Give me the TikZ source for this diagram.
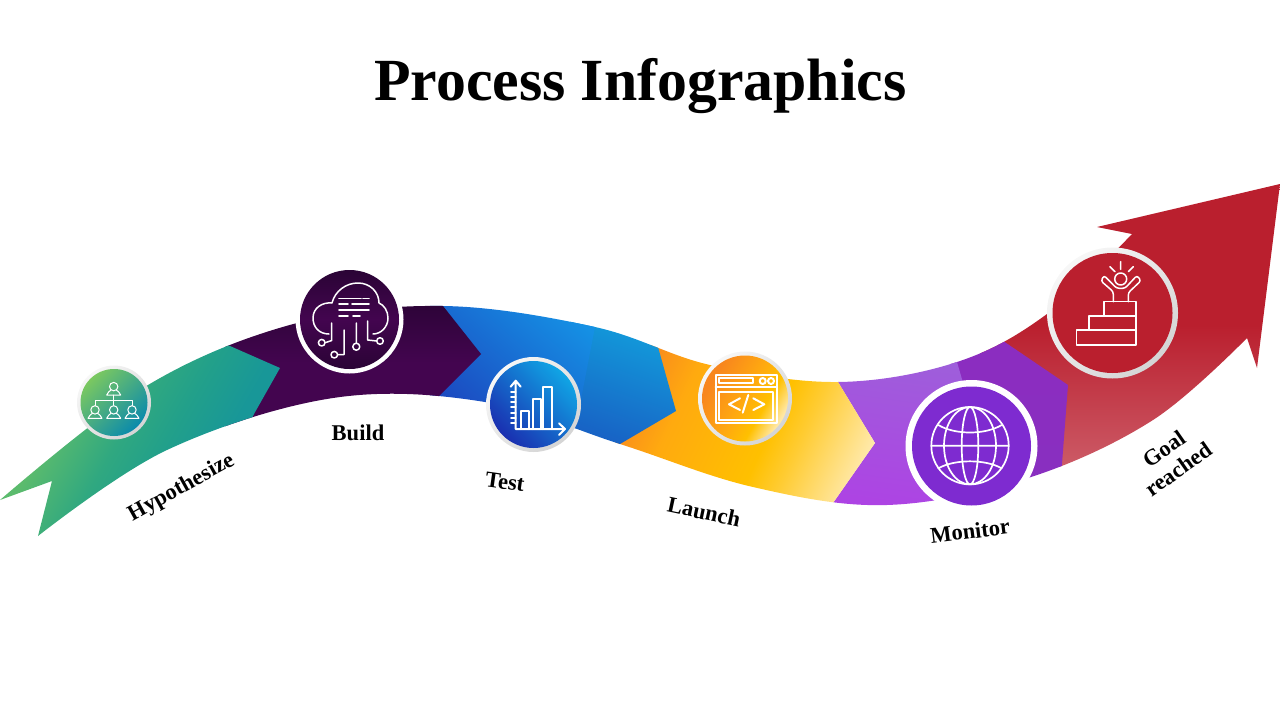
\documentclass[tikz,border=0pt]{standalone}
\usepackage{fontspec}
\setmainfont{Liberation Serif}
\definecolor{grnA}{HTML}{5BBB6D}
\definecolor{grnB}{HTML}{30A880}
\definecolor{grnC}{HTML}{22A08A}
\definecolor{grnD}{HTML}{189798}
\definecolor{discgA}{HTML}{7BC860}
\definecolor{discgB}{HTML}{0A8AAC}
\definecolor{plA}{HTML}{2A0435}
\definecolor{plB}{HTML}{43054F}
\definecolor{blA}{HTML}{1C45BE}
\definecolor{blB}{HTML}{1590E4}
\definecolor{blC}{HTML}{1860C4}
\definecolor{blD}{HTML}{129FDC}
\definecolor{discbA}{HTML}{1A2FB0}
\definecolor{discbB}{HTML}{10A5E5}
\definecolor{yA}{HTML}{F8861E}
\definecolor{yB}{HTML}{FFAA0F}
\definecolor{yC}{HTML}{FFC000}
\definecolor{yD}{HTML}{FFCC33}
\definecolor{yE}{HTML}{FFE8A6}
\definecolor{lpA}{HTML}{9D60DA}
\definecolor{lpB}{HTML}{AE42E4}
\definecolor{dpA}{HTML}{8C2CC0}
\definecolor{dpB}{HTML}{8830C0}
\definecolor{discp}{HTML}{7E2BD0}
\definecolor{rdA}{HTML}{BA1F2E}
\definecolor{rdB}{HTML}{CC5A66}
\definecolor{ringA}{HTML}{F7F7F7}
\definecolor{ringB}{HTML}{D4D4D4}
\pgfdeclarehorizontalshading{bandyellow}{100bp}{color(0bp)=(yA); color(23bp)=(yA); color(35bp)=(yB); color(55bp)=(yC); color(62bp)=(yD); color(76bp)=(yE); color(100bp)=(yE)}
\pgfdeclarehorizontalshading{discyellow}{100bp}{color(0bp)=(yA); color(28bp)=(yA); color(50bp)=(yB); color(62bp)=(yC); color(74bp)=(yE); color(100bp)=(yE)}
\pgfdeclarehorizontalshading{bandgreen}{100bp}{color(0bp)=(grnA); color(35bp)=(grnA); color(47bp)=(grnB); color(55bp)=(grnC); color(65bp)=(grnD); color(100bp)=(grnD)}
\tikzset{
  ringdisc/.style={circle,inner sep=0pt,minimum size=#1,top color=ringA,bottom color=ringB,shading angle=45},
  whitedisc/.style={circle,inner sep=0pt,minimum size=#1,fill=white},
  labeltext/.style={font=\fontsize{22.5}{25}\selectfont\bfseries,text=black,inner sep=0pt,align=center},
  iconline/.style={draw=white,line width=#1,line join=round,line cap=round},
  personicon/.pic={
    \draw[iconline=1pt] (0,-8.4) circle[radius=4.2];
    \draw[iconline=1pt] (-7,0) -- (7,0) .. controls (6.5,-3.2) and (3.6,-3.4) .. (2.6,-5) (-7,0) .. controls (-6.5,-3.2) and (-3.6,-3.4) .. (-2.6,-5);
  }
}
\newcommand{\bandpath}{(0,500) -- plot[smooth,tension=0.6] coordinates {(0,500) (148,385) (297,323) (443,306) (595,327) (710,365) (838,382) (957,362) (1047,314) (1132,234)} -- (1097,227) -- (1280,184) -- (1257,368) -- (1247,338) -- plot[smooth,tension=0.6] coordinates {(1247,338) (1153,420) (1028,478) (887,505) (753,487) (620,444) (485,402) (333,398) (167,450) (38,536)} -- (52,481) -- cycle}
\begin{document}
\begin{tikzpicture}[x=1pt,y=-1pt]
\useasboundingbox (0,0) rectangle (1280,720);
\node[anchor=base,inner sep=0pt,font=\fontsize{59.8}{62}\selectfont\bfseries] (title) at (640.5,100) {Process Infographics};
\begin{scope}
  \clip \bandpath;
  \shade[top color=rdA,bottom color=rdB,middle color=rdA] (980,184) rectangle (1290,466);
  \shade[top color=dpA,bottom color=dpB] (950,320) -- (990,332) -- (1068,385) -- (1060,490) -- (950,520) -- cycle;
  \shade[top color=lpA,bottom color=lpB,shading angle=-8] (820,345) -- (950,345) -- (957,362) -- (968,400) -- (968,515) -- (820,515) -- (826,513) -- (833,503) -- (875,443) -- (838,382) -- (832,372) -- cycle;
  \shade[shading=bandyellow,shading angle=-25] (615,345) -- (825,345) -- (832,372) -- (838,382) -- (875,443) -- (833,503) -- (826,513) -- (615,513) -- cycle;
  \shade[top color=blD,bottom color=blC,shading angle=-20] (570,315) -- (655,335) -- (658,347) -- (676,411) -- (620,444) -- (608,451) -- (570,440) -- cycle;
  \shade[top color=blB,bottom color=blA,shading angle=-40] (430,295) -- (597,317) -- (595,327) -- (577,420) -- (573,440) -- (430,410) -- cycle;
  \shade[top color=plA,bottom color=plB,middle color=plB] (225,296) -- (436,296) -- (443,306) -- (481,354) -- (440,395) -- (430,405) -- (225,430) -- cycle;
  \shade[shading=bandgreen,shading angle=-30] (-5,330) -- (215,339) -- (230,346) -- (280,368) -- (254,414) -- (248,426) -- (248,545) -- (-5,545) -- cycle;
\end{scope}

% discs
\node[ringdisc=74pt] (ring1) at (114,402.5) {};
\node[circle,inner sep=0pt,minimum size=67pt,top color=discgA,bottom color=discgB,shading angle=45] (disc1) at (114,402.5) {};
\node[whitedisc=108pt] (ring2) at (349.5,319.5) {};
\node[circle,inner sep=0pt,minimum size=99pt,top color=plA,bottom color=plA,middle color=plB] (disc2) at (349.5,319.5) {};
\node[ringdisc=95pt] (ring3) at (533.5,404.5) {};
\node[circle,inner sep=0pt,minimum size=87pt,top color=discbB,bottom color=discbA,shading angle=-45] (disc3) at (533.5,404.5) {};
\node[ringdisc=94pt] (ring4) at (745,398.5) {};
\node[circle,inner sep=0pt,minimum size=86pt,shading=discyellow,shading angle=-30] (disc4) at (745,398.5) {};
\node[whitedisc=132pt] (ring5) at (971.5,446) {};
\node[circle,inner sep=0pt,minimum size=119pt,fill=discp] (disc5) at (971.5,446) {};
\node[ringdisc=131pt] (ring6) at (1112.5,313) {};
\node[circle,inner sep=0pt,minimum size=120pt,fill=rdA] (disc6) at (1112.5,313) {};

% icon 1: hierarchy
\pic at (113.7,395) {personicon};
\pic at (95,418.3) {personicon};
\pic at (113.7,418.3) {personicon};
\pic at (132,418.3) {personicon};
\draw[iconline=1pt] (113.7,395) -- (113.7,405) (95,405.5) -- (95,400.3) -- (132,400.3) -- (132,405.5);

% icon 2: cloud
\draw[iconline=1.5pt] (329,334) .. controls (319,334) and (313,327) .. (313,318) .. controls (313,308) and (322,302) .. (332,303) .. controls (335,291) and (346,283) .. (358,283) .. controls (370,283) and (379,292) .. (379,303) .. controls (384,305) and (388,311) .. (388,318) .. controls (388,327) and (381,334) .. (373,334);
\draw[iconline=1.5pt] (331.7,323) -- (331.7,340.5) -- (325,342.7) (344,330) -- (344,354.7) -- (337.7,354.7) (356.3,323) -- (356.3,343.2) (367.7,321) -- (367.7,340) -- (376.7,341);
\draw[iconline=1.5pt] (321.7,342.7) circle[radius=3.3] (334.3,354.7) circle[radius=3.3] (356.3,346.7) circle[radius=3.5] (380,341) circle[radius=3.3];
\draw[iconline=1.6pt] (339,298.3) -- (361,298.3) (363,298.3) -- (369,298.3) (339,304) -- (348,304) (352,304) -- (369,304) (339,310) -- (369,310) (339,316) -- (348,316) (353,316) -- (360,316);

% icon 3: chart
\draw[iconline=2pt] (515.7,380.7) -- (515.7,429) -- (565,429) (510.7,386.7) -- (515.7,380.7) -- (520.7,386.7) (559,423.3) -- (565,429) -- (559,435);
\draw[iconline=2pt] (511,391.7) -- (515.7,391.7) (511,397) -- (515.7,397) (511,402.2) -- (515.7,402.2) (511,407.4) -- (515.7,407.4) (511,412.6) -- (515.7,412.6) (511,417.8) -- (515.7,417.8) (511,423) -- (515.7,423);
\draw[iconline=2pt] (520.7,429) -- (520.7,411) -- (529.3,411) -- (529.3,429) (532.7,429) -- (532.7,399) -- (541,399) -- (541,429) (543.3,429) -- (543.3,386.7) -- (552,386.7) -- (552,429);

% icon 4: browser
\draw[iconline=2pt] (715.7,375) rectangle (776.7,423.3) (715.7,386.7) -- (776.7,386.7);
\draw[iconline=2pt] (719,378.3) rectangle (753.3,383.3) (719,391.7) rectangle (772.7,420);
\draw[iconline=2pt] (762.7,381) circle[radius=3] (771,381) circle[radius=3];
\draw[iconline=2pt] (740,398.3) -- (729,404.3) -- (740,410) (748.3,395) -- (742.7,412.7) (753.3,398.3) -- (764.3,404.3) -- (753.3,410);

% icon 5: globe
\draw[iconline=1.7pt] (970,445.7) circle[radius=38.7] (931.3,445.7) -- (1008.7,445.7);
\draw[iconline=1.7pt] (970,445.7) ellipse[x radius=8.3,y radius=38.7] (970,445.7) ellipse[x radius=26,y radius=38.7];
\draw[iconline=1.7pt] (938.3,425) .. controls (955,435) and (985,435) .. (1001.7,425) (938.3,468.3) .. controls (955,459) and (985,459) .. (1001.7,468.3);

% icon 6: stairs
\draw[iconline=1.5pt] (1076.7,330) rectangle (1136,345) (1089,330) -- (1089,316) -- (1136,316) -- (1136,330) (1104,316) -- (1104,301.7) -- (1136,301.7) -- (1136,316);
\draw[iconline=1.5pt] (1120.7,279) circle[radius=6];
\draw[iconline=1.5pt] (1120.7,261.7) -- (1120.7,269.3) (1110,266.7) -- (1115,271.7) (1133.3,266.7) -- (1128.3,271.7);
\draw[iconline=1.5pt,rounded corners=2.5pt] (1113.3,301.7) -- (1113.3,291.7) -- (1101,281) -- (1104,275.5) -- (1116.7,288.3) -- (1125,288.3) -- (1137,275.5) -- (1141,280.7) -- (1128.3,292.7) -- (1128.3,301.7);

% labels
\node[labeltext,rotate=29] (lab1) at (181.5,488) {Hypothesize};
\node[labeltext] (lab2) at (358,433) {Build};
\node[labeltext,rotate=-8] (lab3) at (505,482) {Test};
\node[labeltext,rotate=-12] (lab4) at (704,512) {Launch};
\node[labeltext,rotate=7] (lab5) at (970,531) {Monitor};
\node[labeltext,rotate=35] (lab6) at (1171,459) {Goal\\reached};
\end{tikzpicture}
\end{document}
